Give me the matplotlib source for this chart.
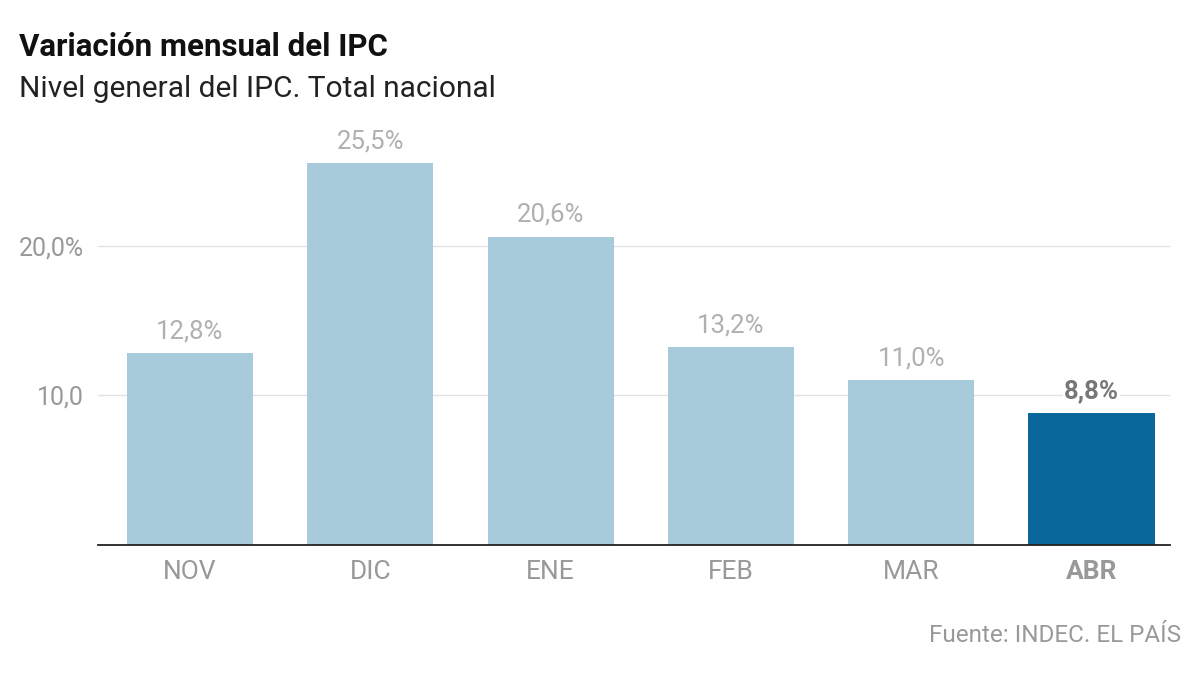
import matplotlib.pyplot as plt

plt.rcParams['font.family'] = ['Roboto', 'DejaVu Sans']

meses = ['NOV', 'DIC', 'ENE', 'FEB', 'MAR', 'ABR']
ipc = [12.8, 25.5, 20.6, 13.2, 11.0, 8.8]
etiquetas = ['12,8%', '25,5%', '20,6%', '13,2%', '11,0%', '8,8%']
yticks = [10, 20]
ytick_labels = ['10,0', '20,0%']

claro = '#a8cbdc'
oscuro = '#0a679c'

fig = plt.figure(figsize=(12, 6.73), dpi=100)
ax = fig.add_axes([0.0817, 0.19, 0.8933, 0.623])

colores = [claro] * (len(meses) - 1) + [oscuro]
x = list(range(len(meses)))
ax.bar(x, ipc, width=0.7, color=colores, zorder=3)

ax.set_xlim(-0.51, 5.435)
ax.set_ylim(0, 28)

ax.set_yticks(yticks)
ax.set_yticklabels(ytick_labels)
ax.yaxis.grid(True, color='#e2e2e2', linewidth=1, zorder=0)
ax.tick_params(axis='y', length=0, pad=10, labelsize=18, labelcolor='#999999')
ax.set_xticks(x)
ax.set_xticklabels(meses)
ax.tick_params(axis='x', length=0, pad=11, labelsize=19, labelcolor='#999999')
lbls = ax.get_xticklabels()
lbls[-1].set_fontweight('bold')
lbls[-1].set_color('#999999')

for s in ['top', 'right', 'left']:
    ax.spines[s].set_visible(False)
ax.spines['bottom'].set_color('#222222')
ax.spines['bottom'].set_linewidth(1.3)
ax.spines['bottom'].set_zorder(4)

# etiquetas de valor sobre las barras
for i, (v, t) in enumerate(zip(ipc, etiquetas)):
    ultimo = i == len(ipc) - 1
    ax.text(i, v + 0.65, t, ha='center', va='bottom', fontsize=18.5,
            color='#777777' if ultimo else '#b0b0b0',
            fontweight='bold' if ultimo else 'normal', zorder=5,
            bbox=dict(facecolor='white', edgecolor='none', pad=1))

fig.text(0.016, 0.93, 'Variación mensual del IPC', fontsize=22.5,
         fontweight='bold', color='#111111', va='center')
fig.text(0.016, 0.868, 'Nivel general del IPC. Total nacional', fontsize=21.5,
         color='#222222', va='center')
fig.text(0.984, 0.055, 'Fuente: INDEC. EL PAÍS', fontsize=17.5,
         color='#999999', ha='right', va='center')

fig.savefig('out.png', dpi=100)
